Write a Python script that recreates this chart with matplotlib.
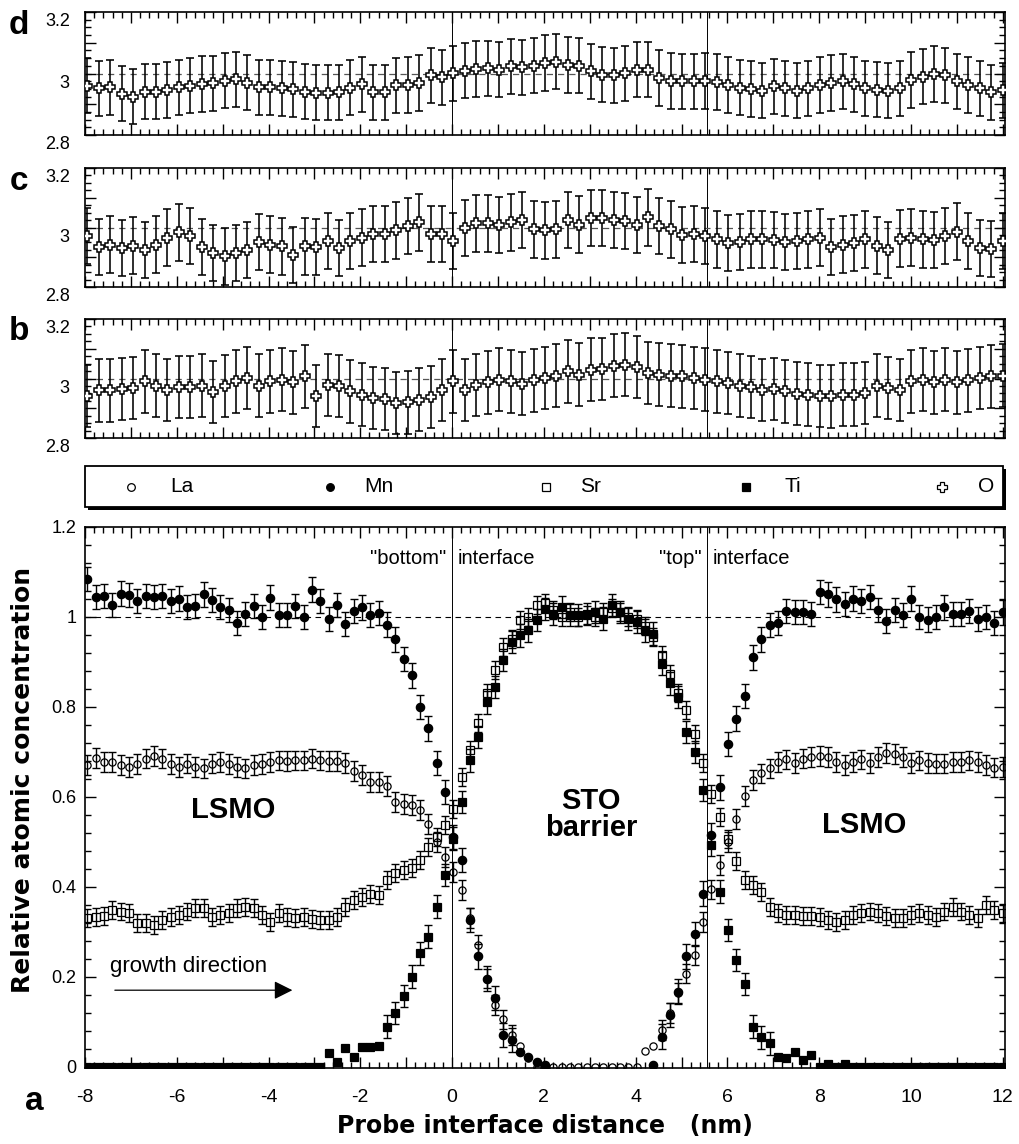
import numpy as np
import matplotlib.pyplot as plt
from matplotlib.patches import Rectangle, FancyArrowPatch
from matplotlib.ticker import MultipleLocator, FuncFormatter

plt.rcParams['font.family'] = ['Liberation Sans', 'DejaVu Sans']
plt.rcParams['axes.unicode_minus'] = False

W, H = 1020, 1144

# composition profile across the junction (profile a)
x_prof = np.linspace(-7.95, 12.0, 111)

mn = [1.085, 1.044, 1.046, 1.026, 1.052, 1.048, 1.036, 1.046, 1.044, 1.046,
      1.036, 1.041, 1.022, 1.024, 1.050, 1.037, 1.022, 1.015, 0.987, 1.007,
      1.024, 1.000, 1.043, 1.004, 1.004, 1.024, 1.000, 1.061, 1.036, 0.996,
      1.026, 0.985, 1.013, 1.021, 1.004, 1.009, 0.983, 0.950, 0.907, 0.870,
      0.800, 0.752, 0.676, 0.610, 0.510, 0.460, 0.326, 0.245, 0.196, 0.152,
      0.070, 0.060, 0.033, 0.022, 0.011, 0.003, 0.0, 0.0, 0.0, 0.0,
      0.0, 0.0, 0.0, 0.0, 0.0, 0.0, 0.0, 0.0, 0.004, 0.067,
      0.115, 0.167, 0.245, 0.295, 0.385, 0.515, 0.621, 0.718, 0.774, 0.824,
      0.910, 0.950, 0.982, 0.987, 1.013, 1.011, 1.011, 1.006, 1.056, 1.050,
      1.039, 1.028, 1.041, 1.036, 1.044, 1.016, 0.991, 1.016, 1.004, 1.041,
      1.000, 0.994, 1.000, 1.021, 1.006, 1.006, 1.013, 0.996, 1.000, 0.987,
      1.010]

la = [0.670, 0.687, 0.678, 0.678, 0.670, 0.667, 0.673, 0.685, 0.690, 0.685,
      0.673, 0.667, 0.674, 0.667, 0.663, 0.674, 0.678, 0.673, 0.667, 0.663,
      0.670, 0.673, 0.678, 0.681, 0.680, 0.681, 0.681, 0.685, 0.681, 0.680,
      0.680, 0.676, 0.658, 0.648, 0.633, 0.633, 0.624, 0.589, 0.584, 0.581,
      0.570, 0.539, 0.500, 0.467, 0.433, 0.393, 0.330, 0.270, 0.196, 0.137,
      0.105, 0.070, 0.045, 0.020, 0.0, 0.0, 0.0, 0.0, 0.0, 0.0,
      0.0, 0.0, 0.0, 0.0, 0.0, 0.0, 0.0, 0.035, 0.045, 0.081,
      0.120, 0.163, 0.207, 0.248, 0.322, 0.394, 0.448, 0.500, 0.550, 0.601,
      0.638, 0.652, 0.663, 0.678, 0.683, 0.676, 0.685, 0.689, 0.690, 0.689,
      0.678, 0.670, 0.678, 0.683, 0.676, 0.689, 0.698, 0.696, 0.689, 0.676,
      0.681, 0.676, 0.674, 0.674, 0.678, 0.678, 0.681, 0.678, 0.670, 0.665,
      0.667]

sr = [0.330, 0.333, 0.335, 0.348, 0.345, 0.341, 0.319, 0.319, 0.315, 0.326,
      0.333, 0.337, 0.345, 0.352, 0.352, 0.333, 0.337, 0.341, 0.352, 0.355,
      0.352, 0.337, 0.322, 0.341, 0.333, 0.330, 0.332, 0.328, 0.326, 0.326,
      0.333, 0.355, 0.370, 0.378, 0.385, 0.382, 0.415, 0.430, 0.437, 0.441,
      0.459, 0.489, 0.510, 0.537, 0.574, 0.644, 0.704, 0.764, 0.830, 0.883,
      0.933, 0.950, 0.993, 1.000, 1.026, 1.030, 1.015, 1.000, 1.010, 1.000,
      1.005, 1.000, 1.010, 1.020, 1.010, 1.000, 0.995, 0.980, 0.955, 0.915,
      0.874, 0.830, 0.793, 0.740, 0.676, 0.607, 0.556, 0.507, 0.457, 0.415,
      0.404, 0.389, 0.356, 0.341, 0.337, 0.337, 0.335, 0.335, 0.333, 0.326,
      0.322, 0.326, 0.337, 0.341, 0.345, 0.341, 0.335, 0.330, 0.330, 0.337,
      0.341, 0.337, 0.333, 0.345, 0.355, 0.345, 0.337, 0.330, 0.360, 0.348,
      0.341]

ti = [0.0, 0.0, 0.0, 0.0, 0.0, 0.0, 0.0, 0.0, 0.0, 0.0,
      0.0, 0.0, 0.0, 0.0, 0.0, 0.0, 0.0, 0.0, 0.0, 0.0,
      0.0, 0.0, 0.0, 0.0, 0.0, 0.0, 0.0, 0.0, 0.0, 0.030,
      0.011, 0.041, 0.022, 0.044, 0.044, 0.046, 0.089, 0.119, 0.157, 0.200,
      0.252, 0.289, 0.356, 0.426, 0.507, 0.589, 0.681, 0.733, 0.810, 0.844,
      0.904, 0.944, 0.959, 0.970, 0.993, 1.018, 1.007, 1.022, 1.004, 1.004,
      1.007, 1.011, 0.996, 1.026, 1.011, 0.996, 0.989, 0.970, 0.963, 0.896,
      0.852, 0.822, 0.744, 0.700, 0.615, 0.493, 0.389, 0.304, 0.237, 0.184,
      0.089, 0.065, 0.052, 0.022, 0.019, 0.033, 0.015, 0.026, 0.0, 0.007,
      0.0, 0.007, 0.0, 0.0, 0.0, 0.0, 0.0, 0.0, 0.0, 0.0,
      0.0, 0.0, 0.0, 0.0, 0.0, 0.0, 0.0, 0.0, 0.0, 0.0,
      0.0]

# oxygen content for three profiles (b, c, d)
x_oxy = np.linspace(-7.95, 12.0, 81)

o_b = [2.942, 2.960, 2.960, 2.965, 2.968, 2.990, 2.976, 2.962, 2.971, 2.971,
       2.976, 2.954, 2.974, 2.990, 3.002, 2.976, 2.990, 2.996, 2.987, 3.007,
       2.942, 2.979, 2.974, 2.957, 2.946, 2.934, 2.931, 2.918, 2.920, 2.929,
       2.938, 2.962, 2.990, 2.962, 2.979, 2.987, 2.996, 2.990, 2.983, 2.994,
       3.002, 3.010, 3.024, 3.013, 3.030, 3.032, 3.043, 3.047, 3.039, 3.019,
       3.013, 3.010, 3.007, 3.002, 2.996, 2.990, 2.985, 2.976, 2.971, 2.962,
       2.965, 2.957, 2.949, 2.946, 2.942, 2.940, 2.946, 2.946, 2.951, 2.976,
       2.968, 2.962, 2.990, 2.996, 2.987, 2.996, 2.987, 2.994, 3.002, 3.007,
       3.010]

o_c = [2.972, 2.934, 2.942, 2.931, 2.939, 2.925, 2.942, 2.966, 2.984, 2.972,
       2.934, 2.915, 2.903, 2.915, 2.925, 2.951, 2.942, 2.937, 2.907, 2.937,
       2.934, 2.954, 2.931, 2.954, 2.966, 2.978, 2.978, 2.990, 3.005, 3.017,
       2.978, 2.978, 2.954, 2.998, 3.014, 3.014, 3.008, 3.017, 3.026, 2.994,
       2.990, 2.994, 3.026, 3.010, 3.032, 3.032, 3.026, 3.022, 3.008, 3.034,
       3.005, 2.994, 2.975, 2.978, 2.972, 2.960, 2.948, 2.951, 2.960, 2.960,
       2.958, 2.951, 2.954, 2.960, 2.966, 2.934, 2.942, 2.948, 2.960, 2.939,
       2.925, 2.963, 2.966, 2.960, 2.958, 2.972, 2.986, 2.954, 2.931, 2.927,
       2.954]

o_d = [2.960, 2.952, 2.955, 2.934, 2.925, 2.941, 2.941, 2.946, 2.955, 2.960,
       2.966, 2.968, 2.977, 2.981, 2.970, 2.955, 2.955, 2.952, 2.949, 2.941,
       2.938, 2.938, 2.939, 2.954, 2.965, 2.939, 2.939, 2.961, 2.963, 2.969,
       2.994, 2.987, 3.001, 3.009, 3.015, 3.017, 3.012, 3.023, 3.020, 3.026,
       3.034, 3.039, 3.028, 3.026, 3.007, 2.996, 2.994, 3.001, 3.012, 3.012,
       2.985, 2.976, 2.974, 2.974, 2.976, 2.972, 2.963, 2.954, 2.950, 2.944,
       2.958, 2.952, 2.944, 2.952, 2.963, 2.969, 2.974, 2.965, 2.952, 2.947,
       2.944, 2.952, 2.979, 2.990, 2.998, 2.994, 2.974, 2.963, 2.952, 2.939,
       2.945]

# one-sigma uncertainties
err_mn, err_la, err_sr, err_ti = 0.027, 0.022, 0.020, 0.025
err_b, err_c, err_d = 0.105, 0.095, 0.09

interfaces = [0.0, 5.55]


def rect(left, top, right, bottom):
    return [left / W, 1 - bottom / H, (right - left) / W, (bottom - top) / H]


def style_axes(ax):
    for s in ax.spines.values():
        s.set_linewidth(1.2)
    ax.set_xlim(-8.0, 12.05)
    ax.xaxis.set_major_locator(MultipleLocator(1))
    ax.xaxis.set_minor_locator(MultipleLocator(0.2))
    ax.tick_params(which='both', direction='in', top=True, right=True, width=1.0)
    ax.tick_params(which='major', length=8)
    ax.tick_params(which='minor', length=4)
    for xv in interfaces:
        ax.axvline(xv, color='black', lw=0.7, zorder=1)


def series(ax, x, y, err, marker, face, ms, z, thresh=0.05, show_zero=True,
           lw=1.0, mew=0.9):
    x = np.asarray(x)
    y = np.asarray(y)
    m = y > thresh
    ax.errorbar(x[m], y[m], yerr=err, fmt='none', ecolor='black',
                elinewidth=lw, capsize=3.0, capthick=lw, zorder=z - 0.5)
    keep = np.ones(len(y), bool) if show_zero else y > 0
    ax.plot(x[keep], y[keep], ls='none', marker=marker, mfc=face, mec='black',
            ms=ms, mew=mew, zorder=z)


fig = plt.figure(figsize=(W / 100, H / 100), dpi=100)

# --- oxygen panels ---
panels = [('d', o_d, err_d, (12, 135)), ('c', o_c, err_c, (168, 287)),
          ('b', o_b, err_b, (319, 438))]
for letter, vals, err, (top, bot) in panels:
    ax = fig.add_axes(rect(85, top, 1005, bot))
    style_axes(ax)
    ax.set_ylim(2.8, 3.2)
    ax.yaxis.set_major_locator(MultipleLocator(0.1))
    ax.yaxis.set_minor_locator(MultipleLocator(0.025))
    ax.set_xticklabels([])
    ax.set_yticklabels([])
    ax.axhline(3.0, color='#555555', lw=0.9, ls=(0, (5, 4)), zorder=1)
    series(ax, x_oxy, vals, err, 'P', 'white', 7.5, 4, thresh=0, lw=1.15, mew=1.1)
    for v, lab in [(2.8, '2.8'), (3.0, '3'), (3.2, '3.2')]:
        ax.annotate(lab, xy=(0, v), xycoords=('axes fraction', 'data'),
                    xytext=(-11, -7), textcoords='offset points',
                    ha='right', va='center', fontsize=13)
    fig.text(19 / W, 1 - (top + 13) / H, letter, fontsize=24, fontweight='bold',
             ha='center', va='center')

# --- element key ---
lg = fig.add_axes(rect(84, 465, 1008, 511))
lg.set_xlim(84, 1008)
lg.set_ylim(511, 465)
lg.axis('off')
lg.add_patch(Rectangle((88, 469), 918, 41, facecolor='black', edgecolor='none'))
lg.add_patch(Rectangle((85, 466), 918, 41, facecolor='white', edgecolor='black', lw=1.3))
key = [('o', 'none', 'La', 131, 170), ('o', 'black', 'Mn', 330, 364),
       ('s', 'none', 'Sr', 546, 580), ('s', 'black', 'Ti', 746, 785),
       ('P', 'white', 'O', 942, 978)]
for mk, face, name, mx, tx in key:
    lg.plot([mx], [487], ls='none', marker=mk, mfc=face, mec='black',
            ms=6.5 if mk == 'P' else 5.5, mew=0.9)
    lg.text(tx, 487, name, fontsize=15, va='center', ha='left')

# --- main composition panel ---
ax = fig.add_axes(rect(85, 527, 1005, 1068))
style_axes(ax)
ax.set_ylim(-0.003, 1.2)
ax.yaxis.set_major_locator(MultipleLocator(0.2))
ax.yaxis.set_minor_locator(MultipleLocator(0.04))
ax.xaxis.set_major_formatter(FuncFormatter(
    lambda v, p: f'{v:g}' if int(round(v)) % 2 == 0 else ''))
ax.yaxis.set_major_formatter(FuncFormatter(lambda v, p: f'{v:g}'))
ax.tick_params(axis='x', which='major', pad=15, labelsize=14)
ax.tick_params(axis='y', which='major', pad=6, labelsize=13)
ax.axhline(1.0, color='black', lw=0.8, ls=(0, (5, 4)), zorder=1)

series(ax, x_prof, sr, err_sr, 's', 'none', 5.2, 3)
series(ax, x_prof, ti, err_ti, 's', 'black', 5.2, 4)
series(ax, x_prof, mn, err_mn, 'o', 'black', 6.0, 5, show_zero=False)
series(ax, x_prof, la, err_la, 'o', 'none', 5.2, 6)

ax.text(-0.12, 1.13, '"bottom"', ha='right', va='center', fontsize=14.5)
ax.text(0.12, 1.13, 'interface', ha='left', va='center', fontsize=14.5)
ax.text(5.43, 1.13, '"top"', ha='right', va='center', fontsize=14.5)
ax.text(5.67, 1.13, 'interface', ha='left', va='center', fontsize=14.5)
ax.text(-4.77, 0.57, 'LSMO', ha='center', va='center', fontsize=21, fontweight='bold')
ax.text(8.98, 0.537, 'LSMO', ha='center', va='center', fontsize=21, fontweight='bold')
ax.text(3.03, 0.56, 'STO\nbarrier', ha='center', va='center', fontsize=21,
        fontweight='bold', linespacing=0.95)
ax.text(-7.46, 0.222, 'growth direction', ha='left', va='center', fontsize=16)
ax.add_patch(FancyArrowPatch((-7.41, 0.170), (-3.42, 0.170), arrowstyle='-|>',
                             mutation_scale=28, lw=0.9, color='black'))

fig.text(23 / W, 1 - 780 / H, 'Relative atomic concentration', rotation=90,
         fontsize=18, fontweight='bold', family=['DejaVu Sans'],
         ha='center', va='center')
fig.text(545 / W, 1 - 1126 / H, 'Probe interface distance   (nm)',
         fontsize=17, fontweight='bold', family=['DejaVu Sans'],
         ha='center', va='center')
fig.text(34 / W, 1 - 1101 / H, 'a', fontsize=24, fontweight='bold', ha='center', va='center')

fig.savefig('out.png', dpi=100)
